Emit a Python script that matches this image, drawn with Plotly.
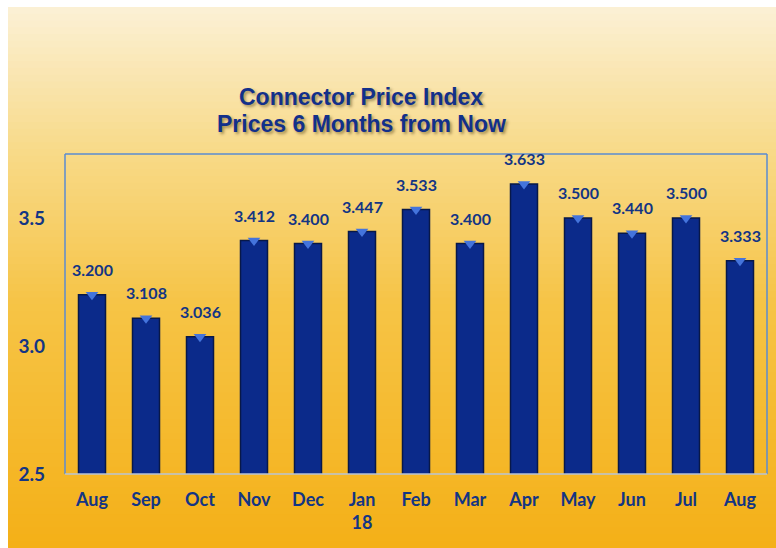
import plotly.graph_objects as go

months = ["Aug", "Sep", "Oct", "Nov", "Dec", "Jan<br>18", "Feb", "Mar", "Apr", "May", "Jun", "Jul", "Aug"]
values = [3.200, 3.108, 3.036, 3.412, 3.400, 3.447, 3.533, 3.400, 3.633, 3.500, 3.440, 3.500, 3.333]
labels = ["3.200", "3.108", "3.036", "3.412", "3.400", "3.447", "3.533", "3.400", "3.633", "3.500", "3.440", "3.500", "3.333"]
ytick_vals = [2.5, 3.0, 3.5]
title_lines = ["Connector Price Index", "Prices 6 Months from Now"]

positions = list(range(len(months)))
NAVY = "#133584"

fig = go.Figure()
fig.add_trace(go.Bar(
    x=positions, y=values,
    marker=dict(color="#0B2A8A", line=dict(color="#081848", width=1.5)),
    width=0.5, hoverinfo="x+y",
))
# highlight caps on bar tops
fig.add_trace(go.Scatter(
    x=positions, y=values, mode="markers",
    marker=dict(symbol="triangle-down", size=11, color="#4474DC", line=dict(width=0)),
    hoverinfo="skip", cliponaxis=False,
))

L, R, T, B = 65, 9, 154, 74
W, H = 776, 548
pw, ph = W - L - R, H - T - B

def px_x(p):
    return (p - L) / pw

def px_y(p):
    return (H - B - p) / ph

# background gradient
def lerp(c1, c2, t):
    return tuple(round(a + (b - a) * t) for a, b in zip(c1, c2))

stops = [(0.0, (251, 240, 212)), (0.25, (248, 219, 140)), (0.55, (246, 196, 70)), (1.0, (244, 176, 24))]
shapes = []
N = 80
top_px, bot_px = 7, 548
for i in range(N):
    t = i / (N - 1)
    for j in range(len(stops) - 1):
        if stops[j][0] <= t <= stops[j + 1][0]:
            tt = (t - stops[j][0]) / (stops[j + 1][0] - stops[j][0])
            c = lerp(stops[j][1], stops[j + 1][1], tt)
            break
    y0p = top_px + (bot_px - top_px) * i / N
    y1p = top_px + (bot_px - top_px) * (i + 1) / N + 1
    shapes.append(dict(type="rect", xref="paper", yref="paper", layer="below",
                       x0=px_x(8), x1=px_x(W + 2), y0=px_y(y1p), y1=px_y(y0p),
                       fillcolor="rgb(%d,%d,%d)" % c, line=dict(width=0)))
# plot border
shapes.append(dict(type="line", xref="paper", yref="paper", x0=0, x1=0, y0=0, y1=1,
                   line=dict(color="#5B8BD0", width=1.5)))
shapes.append(dict(type="line", xref="paper", yref="paper", x0=0, x1=1, y0=1, y1=1,
                   line=dict(color="#5B8BD0", width=1.5)))
shapes.append(dict(type="line", xref="paper", yref="paper", x0=1, x1=1, y0=0, y1=1,
                   line=dict(color="#5B8BD0", width=1.5)))
shapes.append(dict(type="line", xref="paper", yref="paper", x0=0, x1=1, y0=0, y1=0,
                   line=dict(color="#B8C4D4", width=1.5), layer="above"))

annotations = []
for xp, v, lab in zip(positions, values, labels):
    annotations.append(dict(x=xp, y=v, text=lab, showarrow=False, yanchor="bottom", yshift=14,
                            font=dict(family="Lato, Open Sans, sans-serif", size=16, color=NAVY, weight="bold")))
for k, line in enumerate(title_lines):
    annotations.append(dict(xref="paper", yref="paper", x=px_x(361), y=px_y(97 + 27 * k),
                            text="<b>%s</b>" % line, showarrow=False, xanchor="center", yanchor="middle",
                            font=dict(family="Liberation Sans, Arial, sans-serif", size=23, color="#12308A",
                                      shadow="2px 2px 3px rgba(60,40,0,0.45)")))

fig.update_layout(
    width=W, height=H,
    margin=dict(l=L, r=R, t=T, b=B),
    paper_bgcolor="white", plot_bgcolor="rgba(0,0,0,0)",
    showlegend=False, shapes=shapes, annotations=annotations,
    xaxis=dict(tickvals=positions, ticktext=months, range=[-0.5, len(months) - 0.5],
               showgrid=False, zeroline=False, showline=False, ticks="",
               tickfont=dict(family="Lato, Open Sans, sans-serif", size=18, color=NAVY, weight="bold"),
               ticklabelstandoff=13),
    yaxis=dict(range=[2.5, 3.75], tickvals=ytick_vals, tickformat=".1f",
               showgrid=False, zeroline=False, showline=False, ticks="",
               tickfont=dict(family="Lato, Open Sans, sans-serif", size=19, color=NAVY, weight="bold"),
               ticklabelstandoff=19),
)

fig.write_html("out.html")
